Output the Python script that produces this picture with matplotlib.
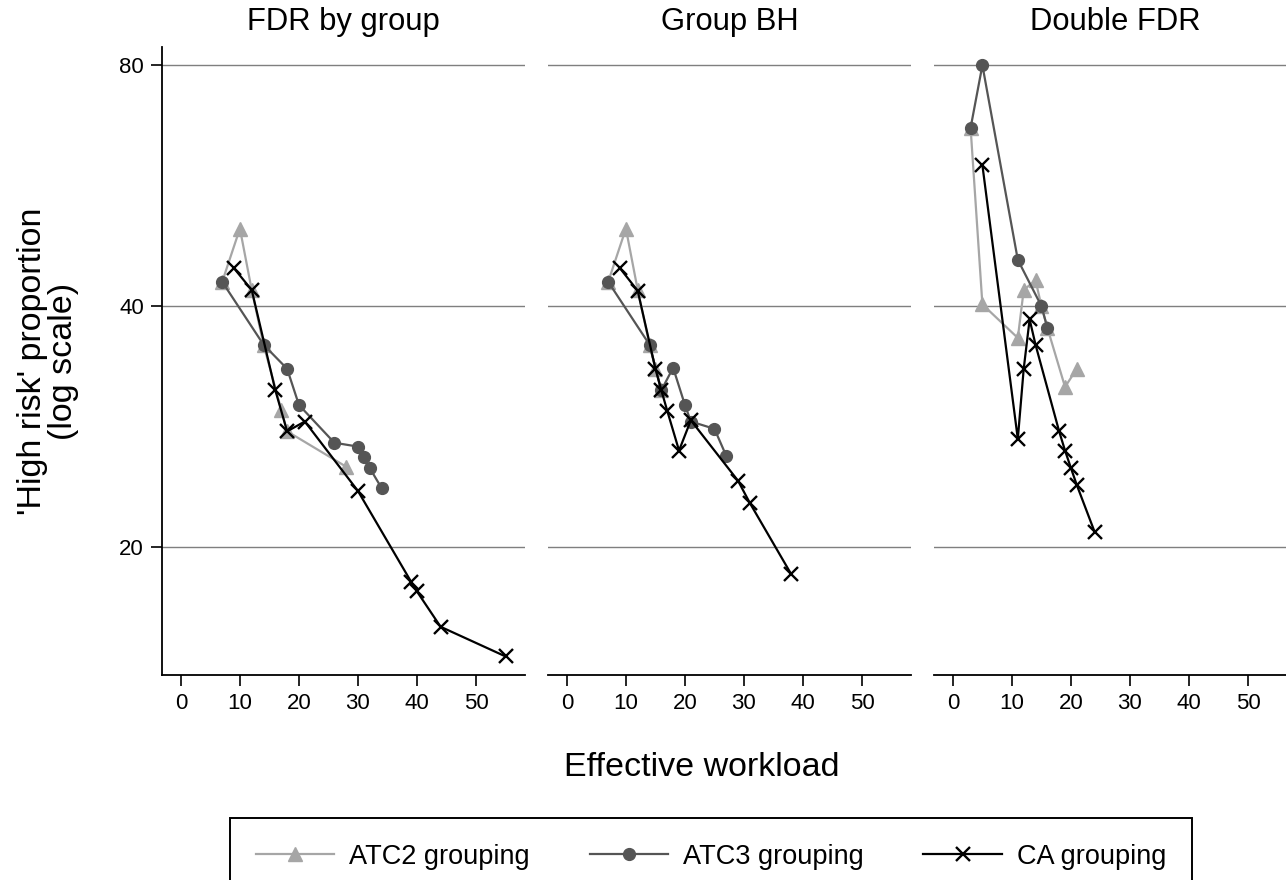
import matplotlib
matplotlib.use("Agg")
import matplotlib.pyplot as plt
from matplotlib.ticker import FixedLocator, FixedFormatter, NullLocator

plt.rcParams['font.family'] = ['Liberation Sans', 'DejaVu Sans']

panel_titles = ["FDR by group", "Group BH", "Double FDR"]
series_names = ["ATC2 grouping", "ATC3 grouping", "CA grouping"]

# Panel 1: FDR by group
p1_atc2_x = [7, 10, 12, 14, 17, 18, 28]
p1_atc2_y = [42.9, 50.0, 41.9, 35.8, 29.7, 27.9, 25.2]
p1_atc3_x = [7, 14, 18, 20, 26, 30, 31, 32, 34]
p1_atc3_y = [42.9, 35.8, 33.4, 30.1, 27.0, 26.7, 25.9, 25.1, 23.7]
p1_ca_x = [9, 12, 16, 18, 21, 30, 39, 40, 44, 55]
p1_ca_y = [44.6, 41.9, 31.4, 27.9, 28.7, 23.5, 18.1, 17.6, 15.9, 14.6]

# Panel 2: Group BH
p2_atc2_x = [7, 10, 12, 14, 15, 16]
p2_atc2_y = [42.9, 50.0, 41.9, 35.8, 33.4, 31.4]
p2_atc3_x = [7, 14, 16, 18, 20, 21, 25, 27]
p2_atc3_y = [42.9, 35.8, 31.4, 33.5, 30.1, 28.7, 28.1, 26.0]
p2_ca_x = [9, 12, 15, 16, 17, 19, 21, 29, 31, 38]
p2_ca_y = [44.6, 41.8, 33.4, 31.4, 29.6, 26.4, 28.8, 24.2, 22.7, 18.5]

# Panel 3: Double FDR
p3_atc2_x = [3, 5, 11, 12, 14, 15, 16, 19, 21]
p3_atc2_y = [66.8, 40.2, 36.5, 41.9, 43.1, 40.0, 37.6, 31.7, 33.4]
p3_atc3_x = [3, 5, 11, 15, 16]
p3_atc3_y = [66.8, 80.0, 45.7, 40.0, 37.6]
p3_ca_x = [5, 11, 12, 13, 14, 18, 19, 20, 21, 24]
p3_ca_y = [60.0, 27.3, 33.4, 38.5, 35.8, 27.9, 26.4, 25.1, 23.9, 20.9]

x_ticks = [0, 10, 20, 30, 40, 50]
y_ticks = [20, 40, 80]
y_ticklabels = ["20", "40", "80"]

panels = [
    [(p1_atc2_x, p1_atc2_y), (p1_atc3_x, p1_atc3_y), (p1_ca_x, p1_ca_y)],
    [(p2_atc2_x, p2_atc2_y), (p2_atc3_x, p2_atc3_y), (p2_ca_x, p2_ca_y)],
    [(p3_atc2_x, p3_atc2_y), (p3_atc3_x, p3_atc3_y), (p3_ca_x, p3_ca_y)],
]

styles = [
    dict(color="#a6a6a6", marker="^", markersize=9.5, linewidth=1.6),
    dict(color="#555555", marker="o", markersize=8.5, linewidth=1.6),
    dict(color="#000000", marker="x", markersize=10, markeredgewidth=1.7, linewidth=1.6),
]

W, H = 1286, 880
fig = plt.figure(figsize=(W / 100, H / 100), dpi=100)

lefts = [162, 548, 934]
ax_w = 363
top_px, bot_px = 47, 675

handles = []
for i, (left, title, data) in enumerate(zip(lefts, panel_titles, panels)):
    ax = fig.add_axes([left / W, 1 - bot_px / H, ax_w / W, (bot_px - top_px) / H])
    ax.set_yscale("log")
    ax.set_ylim(13.84, 84.3)
    ax.set_xlim(-3.2, 58.3)
    for y in y_ticks:
        ax.axhline(y, color="#7f7f7f", linewidth=1.0, zorder=0)
    for j, ((xs, ys), st) in enumerate(zip(data, styles)):
        h, = ax.plot(xs, ys, label=series_names[j], zorder=2 + j, **st)
        if i == 0:
            handles.append(h)
    ax.xaxis.set_major_locator(FixedLocator(x_ticks))
    ax.yaxis.set_major_locator(FixedLocator(y_ticks))
    ax.yaxis.set_major_formatter(FixedFormatter(y_ticklabels))
    ax.yaxis.set_minor_locator(NullLocator())
    ax.tick_params(axis="x", length=8, width=1.2, labelsize=16, pad=5, color="black")
    ax.spines["top"].set_visible(False)
    ax.spines["right"].set_visible(False)
    ax.spines["bottom"].set_linewidth(1.3)
    if i == 0:
        ax.spines["left"].set_linewidth(1.3)
        ax.tick_params(axis="y", length=8, width=1.2, labelsize=16, pad=5)
    else:
        ax.spines["left"].set_visible(False)
        ax.tick_params(axis="y", left=False, labelleft=False)
    ax.text(0.5, 1.04, title, transform=ax.transAxes, ha="center", va="center", fontsize=22.3)

fig.text(48 / W, 1 - 361 / H, "'High risk' proportion\n(log scale)", rotation=90,
         ha="center", va="center", fontsize=24.5, multialignment="center", linespacing=1.0)
fig.text(702 / W, 1 - 768 / H, "Effective workload", ha="center", va="center", fontsize=24.5)

leg = fig.legend(handles=handles, loc="upper center", bbox_to_anchor=(711 / W, 1 - 818 / H),
                 ncol=3, fontsize=19.5, frameon=True, fancybox=False, edgecolor="black",
                 framealpha=1.0, borderaxespad=0.0,
                 handlelength=2.9, handletextpad=0.55, columnspacing=2.2, borderpad=0.95)
leg.get_frame().set_linewidth(1.4)

fig.savefig("out.png", dpi=100)
